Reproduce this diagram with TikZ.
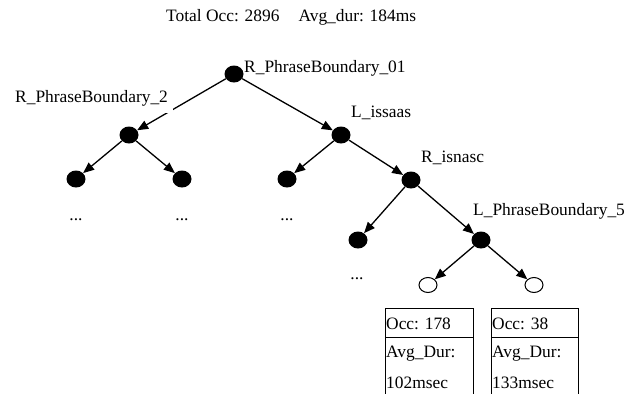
\documentclass[tikz,border=0pt]{standalone}
\usepackage{fontspec}
\setmainfont{Liberation Serif}
\usetikzlibrary{arrows.meta,shapes.geometric}
\begin{document}
\begin{tikzpicture}[x=1pt,y=-1pt,
  every node/.style={font=\fontsize{17.4}{20}\selectfont},
  dot/.style={ellipse, fill=black, minimum width=19pt, minimum height=17pt, inner sep=0pt},
  leaf/.style={ellipse, draw, line width=1pt, fill=white, minimum width=18pt, minimum height=15pt, inner sep=0pt},
  arr/.style={line width=1.3pt, -{Triangle[length=11pt,width=9pt]}},
  lbl/.style={anchor=west, inner sep=0pt},
  boxline/.style={line width=1pt},
  more/.style={anchor=base, inner sep=0pt}]
\useasboundingbox (0,0) rectangle (641,394);
% title
\node[lbl] (title) at (166,17) {Total Occ: 2896\hspace{19pt}Avg\_dur: 184ms};
% tree nodes
\node[dot] (r) at (234,74) {};
\node[dot] (a) at (129,135) {};
\node[dot] (b) at (341,135) {};
\node[dot] (a1) at (76,179) {};
\node[dot] (a2) at (182,179) {};
\node[dot] (b1) at (287,179) {};
\node[dot] (c) at (411,180) {};
\node[dot] (c1) at (358,240) {};
\node[dot] (d) at (481,240) {};
\node[leaf] (e1) at (428,285) {};
\node[leaf] (e2) at (534,285) {};
% edges
\draw[arr] (r) -- (a);
\draw[arr] (r) -- (b);
\draw[arr] (a) -- (a1);
\draw[arr] (a) -- (a2);
\draw[arr] (b) -- (b1);
\draw[arr] (b) -- (c);
\draw[arr] (c) -- (c1);
\draw[arr] (c) -- (d);
\draw[arr] (d) -- (e1);
\draw[arr] (d) -- (e2);
% labels
\node[lbl] (lr) at (244,68) {R\_PhraseBoundary\_01};
\node[lbl, fill=white, inner xsep=5pt, inner ysep=7pt] (la) at (10,98) {R\_PhraseBoundary\_2};
\node[lbl] (lb) at (351,113) {L\_issaas};
\node[lbl] (lc) at (421,158) {R\_isnasc};
\node[lbl] (ld) at (473,211) {L\_PhraseBoundary\_5};
% ellipses
\node[more] (m1) at (76,220) {...};
\node[more] (m2) at (182,220) {...};
\node[more] (m3) at (287,220) {...};
\node[more] (m4) at (357,279) {...};
% boxes
\draw[boxline] (385,394) -- (385,308) -- (473,308) -- (473,394);
\draw[boxline] (385,337) -- (473,337);
\draw[boxline] (491,394) -- (491,308) -- (578,308) -- (578,394);
\draw[boxline] (491,337) -- (578,337);
\node[lbl] (o1) at (386,324) {Occ: 178};
\node[lbl] (v1) at (386,354) {Avg\_Dur:};
\node[lbl] (t1) at (386,383) {102msec};
\node[lbl] (o2) at (492,324) {Occ: 38};
\node[lbl] (v2) at (492,354) {Avg\_Dur:};
\node[lbl] (t2) at (492,383) {133msec};
\end{tikzpicture}
\end{document}
